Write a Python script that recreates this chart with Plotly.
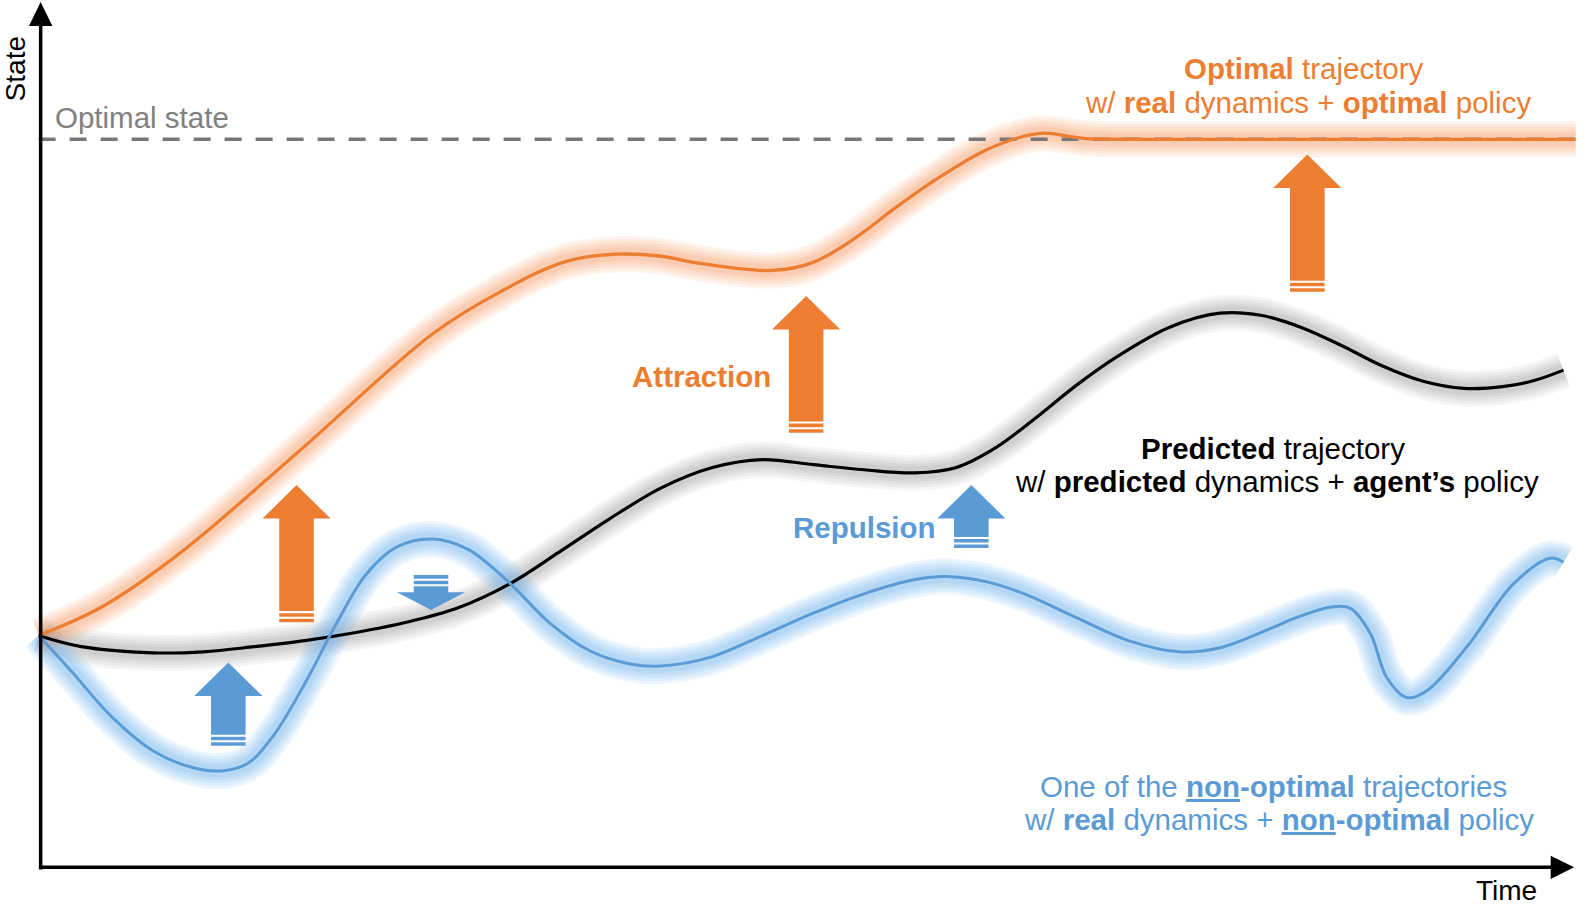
import plotly.graph_objects as go

# ---- data (units: picture coordinates of the schematic, y grows downward) ----
opt_x = [38, 100, 177, 295, 426, 492, 557, 607, 650, 689, 760, 800, 840, 880, 920, 967, 1000, 1026, 1066, 1131, 1300, 1550]
opt_y = [625, 597, 544, 443, 328, 287, 257, 250, 252, 259, 266, 258, 235, 205, 177, 149, 136, 131, 136, 137, 137, 137]

pred_x = [38, 80, 150, 200, 250, 300, 350, 400, 450, 500, 550, 600, 650, 700, 750, 800, 850, 900, 940, 980, 1020, 1060, 1100, 1150, 1200, 1240, 1280, 1320, 1360, 1400, 1440, 1480, 1510, 1538]
pred_y = [625, 636, 642, 641, 636, 630, 622, 612, 598, 575, 543, 510, 480, 460, 452, 457, 462, 465, 460, 440, 410, 378, 350, 322, 308, 310, 322, 340, 360, 375, 382, 380, 374, 364]

non_x = [38, 70, 110, 150, 190, 220, 245, 270, 300, 330, 360, 390, 425, 460, 500, 540, 580, 620, 650, 700, 750, 800, 850, 900, 930, 970, 1010, 1060, 1110, 1160, 1200, 1250, 1279, 1310, 1328, 1348, 1364, 1384, 1404, 1443, 1489, 1525, 1538]
non_y = [625, 660, 705, 738, 755, 758, 750, 722, 672, 615, 565, 538, 530, 540, 572, 612, 640, 653, 655, 646, 625, 603, 584, 570, 567, 572, 585, 608, 630, 641, 637, 618, 606, 597, 598, 623, 666, 686, 679, 636, 574, 549, 553]

optimal_state = 137

ORANGE = "#ED7D31"
BLUE = "#5B9BD5"
BLACK = "#000000"

fig = go.Figure()

def add_glow(x, y, glow_rgb, glow_alpha):
    for w in [36, 30, 24, 18, 13]:
        fig.add_trace(go.Scatter(x=x, y=y, mode="lines", hoverinfo="skip",
                                 line=dict(color=f"rgba({glow_rgb},{glow_alpha})", width=w,
                                           shape="spline", smoothing=1.0)))

def add_line(x, y, color, width):
    fig.add_trace(go.Scatter(x=x, y=y, mode="lines", hoverinfo="skip",
                             line=dict(color=color, width=width, shape="spline", smoothing=1.0)))

add_glow(pred_x, pred_y, "0,0,0", 0.04)
add_glow(non_x, non_y, "110,180,240", 0.13)
add_glow(opt_x, opt_y, "245,150,80", 0.11)
add_line(pred_x, pred_y, BLACK, 3.2)
add_line(non_x, non_y, BLUE, 3.0)

# optimal state dashed line
fig.add_trace(go.Scatter(x=[38, 1550], y=[optimal_state, optimal_state], mode="lines",
                         hoverinfo="skip", line=dict(color="#777777", width=3.5, dash="17px,14px")))
add_line(opt_x, opt_y, ORANGE, 3.3)

shapes = []
# axes
shapes.append(dict(type="line", x0=40, x1=40, y0=855, y1=20, line=dict(color="black", width=3.5)))
shapes.append(dict(type="path", path="M 28.5,25.6 L 40,2 L 51.5,25.6 Z", fillcolor="black", line=dict(width=0)))
shapes.append(dict(type="line", x0=38.3, x1=1530, y0=853, y1=853, line=dict(color="black", width=3.5)))
shapes.append(dict(type="path", path="M 1525.4,841.5 L 1548.4,853 L 1525.4,864.5 Z", fillcolor="black", line=dict(width=0)))

# block arrows: (center x, tip y, tail y, head length, color)
arrows = [
    (291.7, 477, 612, 33, ORANGE),
    (793, 291, 425.6, 33, ORANGE),
    (1286, 152, 287, 33, ORANGE),
    (224.6, 651.5, 733.5, 33, BLUE),
    (955.5, 477, 539, 33, BLUE),
    (424, 600, 565.6, 17.5, BLUE),
]
HH, BH = 33.5, 17
for cx, tip, tail, hl, col in arrows:
    d = 1 if tail > tip else -1
    hb = tip + d * hl
    body_end = tail - d * 11
    p = (f"M {cx-HH},{hb} L {cx},{tip} L {cx+HH},{hb} L {cx+BH},{hb} "
         f"L {cx+BH},{body_end} L {cx-BH},{body_end} L {cx-BH},{hb} Z")
    shapes.append(dict(type="path", path=p, fillcolor=col, line=dict(width=0)))
    for a, b in [(2, 5.5), (7.5, 11)]:
        shapes.append(dict(type="rect", x0=cx - BH, x1=cx + BH,
                           y0=body_end + d * a, y1=body_end + d * b,
                           fillcolor=col, line=dict(width=0)))

FONT = "Liberation Sans, Arial, sans-serif"
FS = 29.5
U = '<span style="text-decoration:underline">'
ann = []
def text(x, y, s, color, xanchor="center", size=FS, angle=0):
    ann.append(dict(x=x, y=y, xref="x", yref="y", text=s, showarrow=False, xanchor=xanchor,
                    yanchor="middle", align="center", textangle=angle,
                    font=dict(family=FONT, size=size, color=color)))

text(1283, 67, "<b>Optimal</b> trajectory", ORANGE)
text(1287, 101, "w/ <b>real</b> dynamics + <b>optimal</b> policy", ORANGE)
text(1252, 441, "<b>Predicted</b> trajectory", BLACK)
text(1256, 474, "w/ <b>predicted</b> dynamics + <b>agent’s</b> policy", BLACK)
text(1253, 773, f"One of the <b>{U}non</span>-optimal</b> trajectories", BLUE)
text(1258, 806, f"w/ <b>real</b> dynamics + <b>{U}non</span>-optimal</b> policy", BLUE)
text(690, 370, "<b>Attraction</b>", ORANGE)
text(850, 519, "<b>Repulsion</b>", BLUE)
text(52, 116, "Optimal state", "#808080", xanchor="left")
text(15, 68, "State", "black", angle=-90, size=28)
text(1482, 876, "Time", "black", size=28)

fig.update_layout(
    width=1594, height=907, margin=dict(l=0, r=0, t=0, b=0),
    paper_bgcolor="white", plot_bgcolor="white", showlegend=False,
    xaxis=dict(range=[0, 1568], visible=False, fixedrange=True),
    yaxis=dict(range=[892, 0], visible=False, fixedrange=True),
    shapes=shapes, annotations=ann,
)
fig.write_html("out.html", config={"displayModeBar": False},
               post_script="document.body.style.margin='0';document.body.style.overflow='hidden';")
